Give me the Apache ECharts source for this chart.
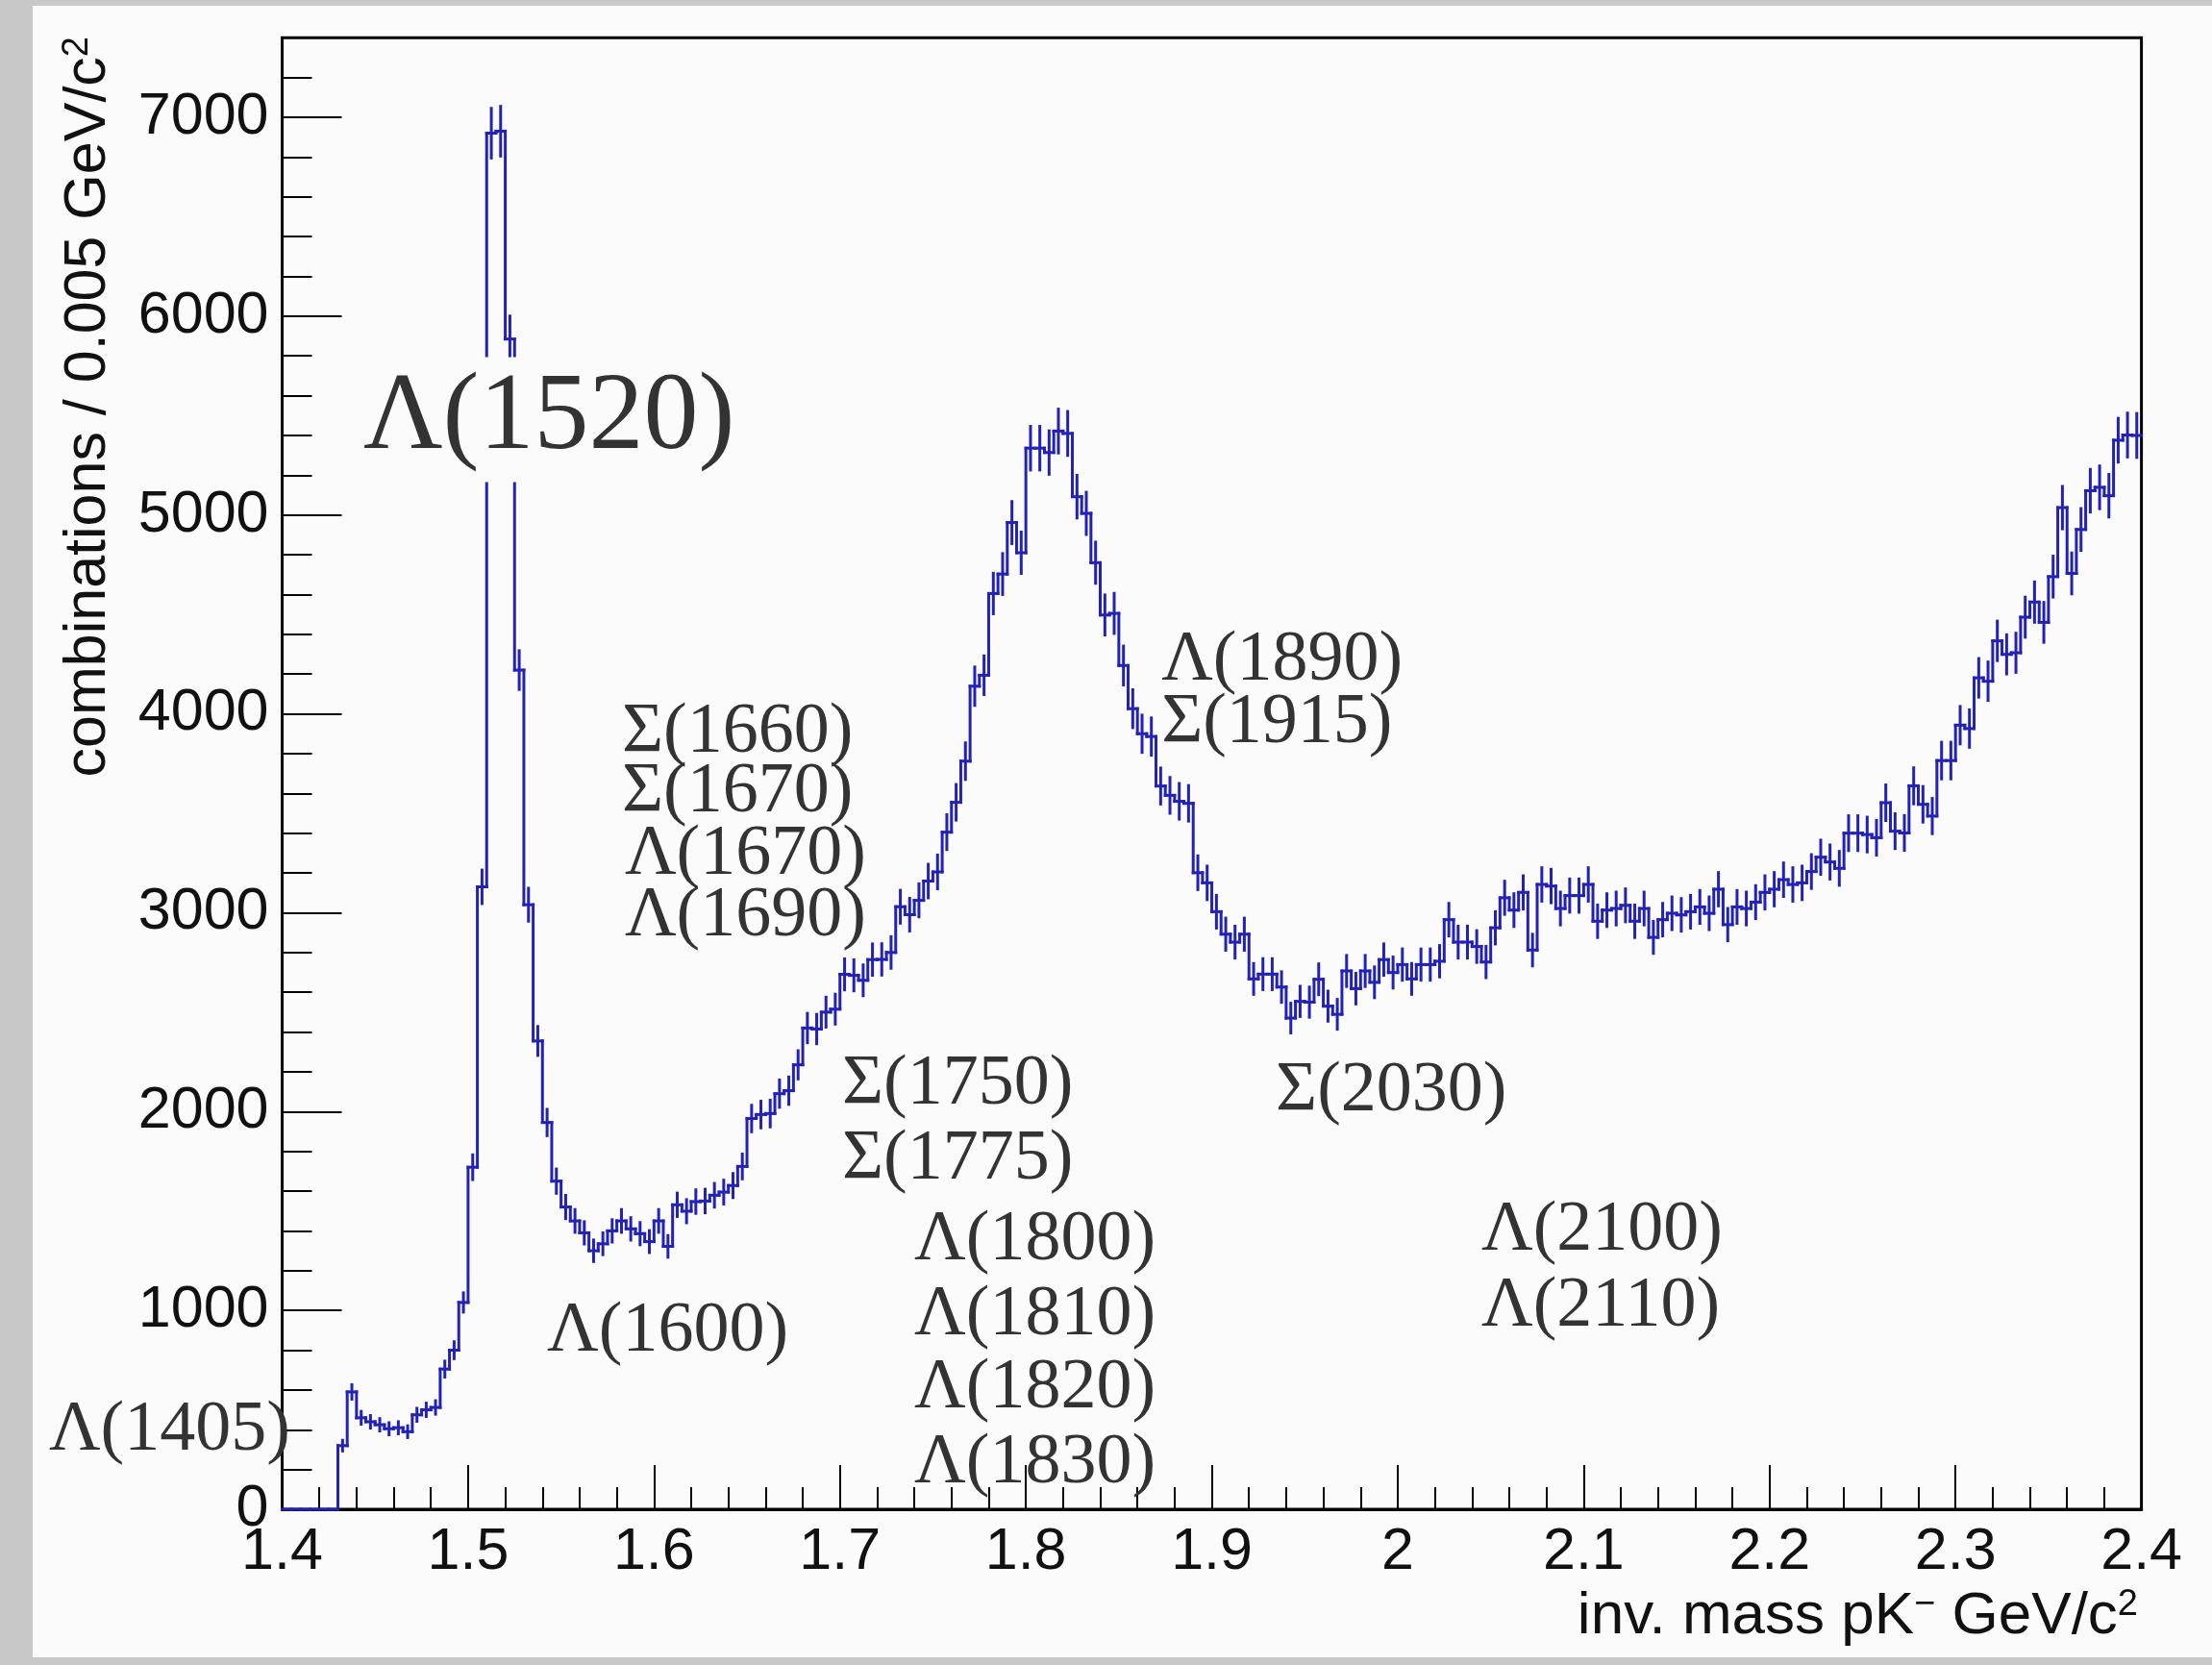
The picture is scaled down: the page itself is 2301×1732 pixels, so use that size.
<!DOCTYPE html>
<html><head><meta charset="utf-8">
<script src="https://cdn.jsdelivr.net/npm/echarts@6/dist/echarts.min.js"></script>
<style>
html,body{margin:0;padding:0;width:2301px;height:1732px;background:#c8c8c8;overflow:hidden}
#frame{position:absolute;left:34px;top:6px;width:2267px;height:1718px;background:#fbfbfb}
#chart{position:absolute;left:0;top:0;width:2267px;height:1718px}
</style></head><body>
<div id="frame"><div id="chart"></div></div>
<script>
// ---- data ----
const massMin = 1.4;
const massMax = 2.4;
const binWidth = 0.005;
// counts per 0.005 GeV/c^2 bin, from 1.400 to 2.400 (200 bins)
const counts = [
  0,0,0,0,0,0,320,590,460,440,
  425,405,410,390,475,500,512,705,800,1040,
  1720,3130,6920,6930,5885,4220,3040,2355,1945,1650,
  1520,1450,1390,1300,1335,1400,1450,1410,1386,1346,
  1450,1322,1531,1499,1547,1550,1579,1595,1628,1724,
  1965,1985,1990,2090,2105,2235,2420,2415,2500,2515,
  2690,2685,2660,2764,2765,2800,3030,2990,3062,3159,
  3205,3405,3555,3762,4139,4194,4605,4703,4962,4810,
  5336,5336,5314,5422,5410,5092,5008,4760,4497,4505,
  4243,4026,3900,3886,3637,3590,3560,3550,3201,3150,
  3005,2892,2852,2892,2667,2691,2691,2626,2470,2554,
  2550,2665,2530,2489,2707,2618,2707,2650,2764,2699,
  2739,2667,2739,2739,2756,2965,2852,2852,2830,2752,
  2924,3075,3013,3102,2812,3142,3134,3021,3086,3086,
  3142,2957,3013,3021,3037,2957,3021,2876,2965,2997,
  2989,3005,3029,2997,3118,2940,3029,3021,3053,3102,
  3118,3166,3142,3150,3207,3279,3255,3223,3400,3400,
  3393,3377,3553,3410,3401,3638,3545,3486,3765,3765,
  3943,3926,4181,4164,4367,4299,4307,4486,4562,4460,
  4690,5037,4706,4927,5122,5139,5097,5376,5402,5400
];
const yMax = 7400;
const yMajorStep = 1000;
const yMinorStep = 200;
const xMajorStep = 0.1;
// resonance annotations: text, mass anchor, count anchor (left edge, vertical middle)
const annotationTexts = ['Λ(1520)','Σ(1660)','Σ(1670)','Λ(1670)','Λ(1690)','Λ(1890)','Σ(1915)','Σ(1750)','Σ(1775)','Λ(1800)','Λ(1810)','Λ(1820)','Λ(1830)','Σ(2030)','Λ(2100)','Λ(2110)','Λ(1600)','Λ(1405)'];
const annotationMass = [1.4416,1.5828,1.5828,1.5843,1.5843,1.8729,1.8729,1.7012,1.7012,1.7400,1.7400,1.7400,1.7400,1.9344,2.0450,2.0450,1.5425,1.2746];
const annotationCount = [5480,3905,3605,3290,2982,4268,3950,2134,1757,1350,972,605,228,2100,1398,1016,893,393];
const xTitle = 'inv. mass pK';
const yTitle = 'combinations / 0.005 GeV/c';

// ---- styles ----
const HIST_COLOR = '#2222b8';
const HIST_LW = 3;
const ERR_SCALE = 1.5;
const SANS = '"Liberation Sans", Arial, Helvetica, sans-serif';
const SERIF = '"Liberation Serif", "Times New Roman", "DejaVu Serif", serif';
const OFFX = 34, OFFY = 6;

const histData = counts.map((c, i) => [
  massMin + i * binWidth,
  massMin + (i + 1) * binWidth,
  c,
  ERR_SCALE * Math.sqrt(c),
  i > 0 ? counts[i - 1] : 0
]);

const chart = echarts.init(document.getElementById('chart'), null, {renderer: 'canvas'});

const option = {
  animation: false,
  backgroundColor: 'transparent',
  grid: {
    left: 293.5 - OFFX, top: 1570 - yMax * 0.20686 - OFFY, width: 1934.1, height: yMax * 0.20686,
    show: true, borderColor: '#000', borderWidth: 3, backgroundColor: 'transparent',
    containLabel: false, outerBoundsMode: 'none'
  },
  xAxis: {
    type: 'value', min: massMin, max: massMax, interval: xMajorStep, position: 'bottom',
    axisLine: {show: true, onZero: false, lineStyle: {color: '#000', width: 3}},
    axisTick: {show: true, inside: true, length: 46, lineStyle: {color: '#000', width: 2}},
    minorTick: {show: true, splitNumber: 5, length: 23, lineStyle: {color: '#000', width: 2}},
    axisLabel: {show: true, margin: 15, fontSize: 61, fontFamily: SANS, color: '#111',
      formatter: v => String(Math.round(v * 10) / 10)},
    splitLine: {show: false}, minorSplitLine: {show: false}
  },
  yAxis: [
    {
      type: 'value', min: 0, max: yMax, interval: yMajorStep, position: 'left',
      axisLine: {show: true, onZero: false, lineStyle: {color: '#000', width: 3}},
      axisTick: {show: true, inside: true, length: 62, lineStyle: {color: '#000', width: 2}},
      axisLabel: {show: true, margin: 14, fontSize: 61, fontFamily: SANS, color: '#111',
        formatter: v => (v > 7000 ? '' : String(v))},
      splitLine: {show: false}
    },
    {
      type: 'value', min: 0, max: yMax, interval: yMinorStep, position: 'left', offset: 0,
      axisLine: {show: false},
      axisTick: {show: true, inside: true, length: 31, lineStyle: {color: '#000', width: 2}},
      axisLabel: {show: false}, splitLine: {show: false}
    }
  ],
  series: [{
    type: 'custom',
    xAxisIndex: 0, yAxisIndex: 0,
    data: histData,
    encode: {x: [0, 1], y: 2},
    renderItem: function (params, api) {
      const lo = api.value(0), hi = api.value(1), v = api.value(2), e = api.value(3), prev = api.value(4);
      const pL = api.coord([lo, v]);
      const pR = api.coord([hi, v]);
      const pP = api.coord([lo, prev]);
      const mid = (lo + hi) / 2;
      const st = {stroke: HIST_COLOR, lineWidth: HIST_LW, lineCap: 'square'};
      const children = [
        {type: 'line', shape: {x1: pL[0], y1: pL[1], x2: pR[0], y2: pR[1]}, style: st},
        {type: 'line', shape: {x1: pP[0], y1: pP[1], x2: pL[0], y2: pL[1]}, style: st}
      ];
      if (e > 0) {
        const pt = api.coord([mid, v + e]);
        const pb = api.coord([mid, v - e]);
        children.push({type: 'line', shape: {x1: pt[0], y1: pt[1], x2: pb[0], y2: pb[1]}, style: st});
      }
      return {type: 'group', children: children};
    }
  }]
};
chart.setOption(option);

// text elements
const graphics = [];
annotationTexts.forEach((t, i) => {
  const p = chart.convertToPixel({xAxisIndex: 0, yAxisIndex: 0}, [annotationMass[i], annotationCount[i]]);
  const big = i === 0;
  const style = {
    text: t, x: 0, y: 0, fill: '#333', fontFamily: SERIF, fontSize: big ? 114 : 74,
    align: 'left', verticalAlign: 'middle'
  };
  if (big) { style.backgroundColor = '#fbfbfb'; style.padding = [8, 4, 8, 4]; }
  graphics.push({type: 'text', x: p[0], y: p[1], z: 100, style: style});
});
// x axis title
graphics.push({
  type: 'text', x: 2224 - OFFX, y: 1682 - OFFY, z: 100,
  style: {
    text: xTitle + '{sup|−} GeV/c{sup|2}', fill: '#111', fontFamily: SANS, fontSize: 62,
    align: 'right', verticalAlign: 'middle',
    rich: {sup: {fontSize: 38, fontFamily: SANS, fill: '#111', verticalAlign: 'top', lineHeight: 62}}
  }
});
// y axis title (rotated)
graphics.push({
  type: 'text', x: 92 - OFFX, y: 38 - OFFY, rotation: Math.PI / 2, z: 100,
  style: {
    text: yTitle + '{sup|2}', fill: '#111', fontFamily: SANS, fontSize: 61,
    align: 'right', verticalAlign: 'middle',
    rich: {sup: {fontSize: 38, fontFamily: SANS, fill: '#111', verticalAlign: 'top', lineHeight: 61}}
  }
});
chart.setOption({graphic: {elements: graphics}});
</script>
</body></html>
